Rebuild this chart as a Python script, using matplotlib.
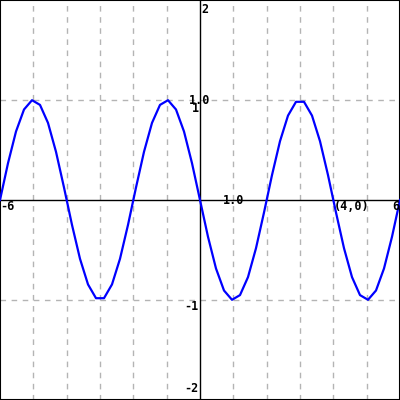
import matplotlib
matplotlib.use('Agg')
import matplotlib.pyplot as plt

xs = [-6.0, -5.76, -5.52, -5.28, -5.04, -4.8, -4.56, -4.32, -4.08, -3.84,
      -3.6, -3.36, -3.12, -2.88, -2.64, -2.4, -2.16, -1.92, -1.68, -1.44,
      -1.2, -0.96, -0.72, -0.48, -0.24, 0.0, 0.24, 0.48, 0.72, 0.96,
      1.2, 1.44, 1.68, 1.92, 2.16, 2.4, 2.64, 2.88, 3.12, 3.36,
      3.6, 3.84, 4.08, 4.32, 4.56, 4.8, 5.04, 5.28, 5.52, 5.76, 6.0]
ys = [0.0, 0.368, 0.685, 0.905, 0.998, 0.951, 0.771, 0.482, 0.125, -0.249,
      -0.588, -0.844, -0.982, -0.982, -0.844, -0.588, -0.249, 0.125, 0.482, 0.771,
      0.951, 0.998, 0.905, 0.685, 0.368, 0.0, -0.368, -0.685, -0.905, -0.998,
      -0.951, -0.771, -0.482, -0.125, 0.249, 0.588, 0.844, 0.982, 0.982, 0.844,
      0.588, 0.249, -0.125, -0.482, -0.771, -0.951, -0.998, -0.905, -0.685, -0.368, 0.0]

grid_x = [-5, -4, -3, -2, -1, 1, 2, 3, 4, 5]
grid_y = [-1, 1]

fig = plt.figure(figsize=(4, 4), dpi=100)
ax = fig.add_axes([0, 0, 1, 1])
ax.set_xlim(-6, 6)
ax.set_ylim(-2, 2)
ax.set_xticks([])
ax.set_yticks([])
for s in ax.spines.values():
    s.set_color('black')
    s.set_linewidth(1.5)

for gx in grid_x:
    ax.axvline(gx, color='#b4b4b4', lw=1, ls=(0, (4, 4)), zorder=1)
for gy in grid_y:
    ax.axhline(gy, color='#b4b4b4', lw=1, ls=(0, (4, 4)), zorder=1)
ax.axhline(0, color='black', lw=1, zorder=2)
ax.axvline(0, color='black', lw=1, zorder=2)

ax.plot(xs, ys, color='#0000ff', lw=1.6, zorder=3)

fnt = dict(family='DejaVu Sans Mono', weight='bold', fontsize=8.5, zorder=4)
ax.text(0.04, 1.97, '2', ha='left', va='top', **fnt)
ax.text(-0.04, -1.88, '-2', ha='right', va='center', **fnt)
ax.text(0.0, 0.99, '1.0', ha='center', va='center', **fnt)
ax.text(-0.14, 0.92, '1', ha='center', va='center', **fnt)
ax.text(-0.04, -1.06, '-1', ha='right', va='center', **fnt)
ax.text(-6.0, -0.06, '-6', ha='left', va='center', **fnt)
ax.text(5.98, -0.06, '6', ha='right', va='center', **fnt)
ax.text(1.0, 0.0, '1.0', ha='center', va='center', **fnt)
ax.text(4.0, -0.06, '(4,0)', ha='left', va='center', **fnt)

fig.savefig('out.png', dpi=100)
